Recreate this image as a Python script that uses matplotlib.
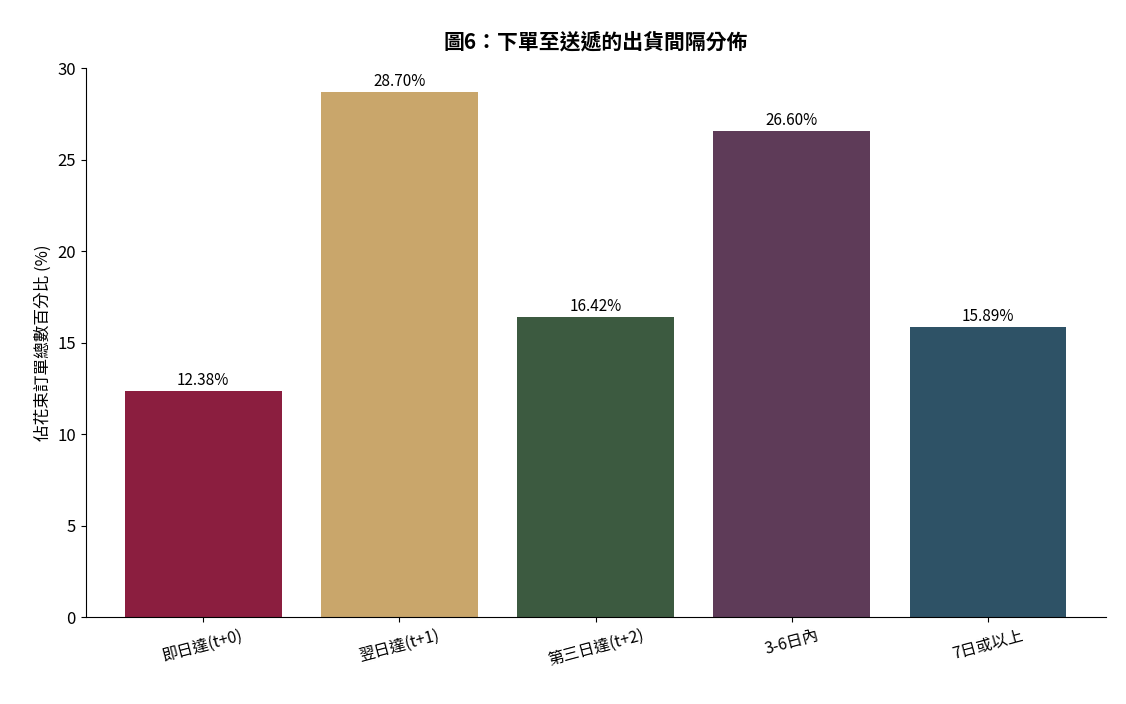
import matplotlib
matplotlib.use("Agg")
import matplotlib.pyplot as plt

plt.rcParams["font.family"] = ["Noto Sans CJK TC", "DejaVu Sans"]

categories = ["即日達(t+0)", "翌日達(t+1)", "第三日達(t+2)", "3-6日內", "7日或以上"]
values = [12.38, 28.70, 16.42, 26.60, 15.89]
colors = ["#8B1E3F", "#C9A66B", "#3C5A40", "#5E3B58", "#2E5266"]

fig, ax = plt.subplots(figsize=(11.26, 7.04), dpi=100)
fig.subplots_adjust(left=0.076, right=0.982, top=0.903, bottom=0.123)

bars = ax.bar(categories, values, color=colors, width=0.8)
for b, v in zip(bars, values):
    ax.text(b.get_x() + b.get_width() / 2, v + 0.1, f"{v:.2f}%",
            ha="center", va="bottom", fontsize=11)

ax.set_ylim(0, 30)
ax.set_xlim(-0.6, 4.6)
ax.set_ylabel("佔花束訂單總數百分比 (%)", fontsize=12)
ax.set_title("圖6：下單至送遞的出貨間隔分佈", fontsize=15, fontweight="bold", pad=14)
ax.tick_params(axis="y", labelsize=12)
ax.tick_params(axis="x", labelsize=11.5)
plt.setp(ax.get_xticklabels(), rotation=15)
ax.spines["top"].set_visible(False)
ax.spines["right"].set_visible(False)

fig.savefig("out.png", dpi=100)
